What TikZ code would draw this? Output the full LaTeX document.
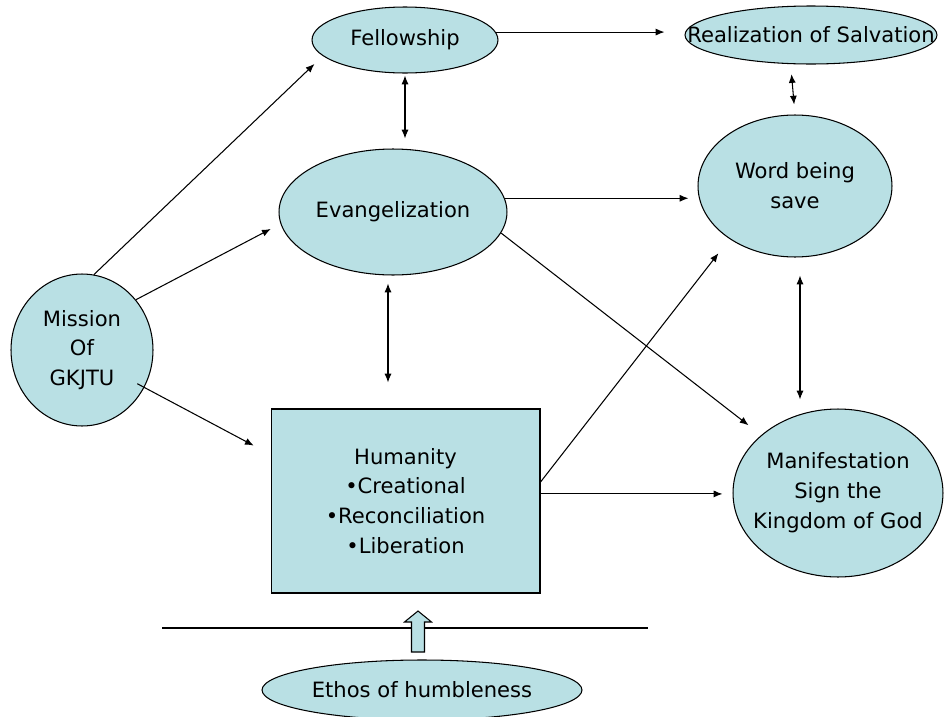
\documentclass[tikz,border=0pt]{standalone}
\usepackage{fontspec}
\setmainfont{DejaVu Sans}
\usetikzlibrary{shapes.geometric,arrows.meta}
\definecolor{bubblecol}{RGB}{185,224,228}
\tikzset{
  bubble/.style={ellipse, draw, fill=bubblecol, line width=0.6pt, inner sep=0pt},
  conn/.style={line width=0.6pt, -{Latex[length=5pt,width=4pt]}},
  both/.style={line width=0.6pt, {Latex[length=5pt,width=4pt]}-{Latex[length=5pt,width=4pt]}},
  every label/.style={align=center}
}
\begin{document}
\begin{tikzpicture}[x=0.02cm, y=-0.02cm, font=\fontsize{12pt}{17pt}\selectfont]
      \useasboundingbox (0,0) rectangle (944,717);

      \node[bubble, minimum width=3.72cm, minimum height=1.32cm, label=center:Fellowship] (fellow) at (405,40) {};
      \node[bubble, minimum width=5.04cm, minimum height=1.16cm, label=center:Realization of Salvation] (real) at (811,35) {};
      \node[bubble, minimum width=4.56cm, minimum height=2.52cm, label=center:Evangelization] (evan) at (393,212) {};
      \node[bubble, minimum width=3.88cm, minimum height=2.84cm, label={center:Word being\\save}] (word) at (795,186) {};
      \node[bubble, minimum width=2.84cm, minimum height=3.04cm, label={center:Mission\\Of\\GKJTU}] (mission) at (82,350) {};
      \node[draw, fill=bubblecol, line width=0.6pt, minimum width=5.38cm, minimum height=3.68cm, align=center] (human) at (405.5,501) {Humanity\\•Creational\\•Reconciliation\\•Liberation};
      \node[bubble, minimum width=4.2cm, minimum height=3.36cm, label={center:Manifestation\\Sign the\\Kingdom of God}] (manif) at (838,493) {};
      \node[bubble, minimum width=6.4cm, minimum height=1.2cm, label=center:Ethos of humbleness] (ethos) at (422,690) {};

      \draw[conn, shorten >=0.23cm] (mission.81) -- (fellow.191);
      \draw[conn, shorten >=0.22cm] (mission.43) -- (evan.186);
      \draw[conn, shorten <=-0.16cm, shorten >=0.38cm] (mission.-31) -- (human.161);
      \draw[both, shorten <=0.04cm, shorten >=0.2cm] (fellow.south) -- (fellow.south |- evan.north);
      \draw[conn, shorten >=0.4cm] (fellow.5) -- (fellow.5 -| real.west);
      \draw[both, shorten <=0.2cm, shorten >=0.2cm] (real.235) -- (word.north);
      \draw[conn, shorten >=0.18cm] (evan.7) -- (evan.7 -| word.west);
      \draw[both, shorten <=0.16cm, shorten >=0.52cm] ([xshift=-0.1cm]evan.south) -- ([xshift=-0.1cm]evan.south |- human.north);
      \draw[conn, shorten >=0.32cm] (evan.-11) -- (manif.143);
      \draw[conn, shorten >=0.36cm] (human.8) -- (word.219);
      \draw[conn, shorten >=0.2cm] (human.3) -- (human.3 -| manif.west);
      \draw[both, shorten <=0.36cm, shorten >=0.18cm] ([xshift=0.1cm]word.south) -- ([xshift=0.1cm]word.south |- manif.north);

      \draw[line width=0.6pt] (162,628) -- (648,628);
      \draw[line width=0.6pt, fill=bubblecol] (411.5,652) -- (411.5,622) -- (404.5,622) -- (418,611) -- (431.5,622) -- (424.5,622) -- (424.5,652) -- cycle;
    \end{tikzpicture}
\end{document}
